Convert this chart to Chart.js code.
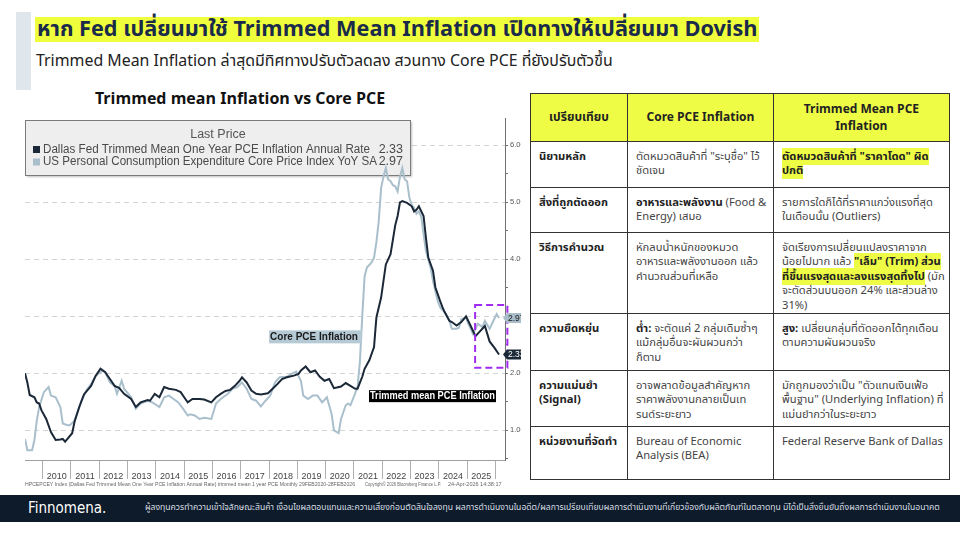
<!DOCTYPE html>
<html>
<head>
<meta charset="utf-8">
<script src="https://cdn.jsdelivr.net/npm/chart.js@4.4.1/dist/chart.umd.min.js"></script>
<style>
  html, body { margin: 0; padding: 0; background: #fff; }
  body { width: 960px; height: 540px; position: relative; overflow: hidden;
         font-family: "Noto Sans Thai", "Noto Sans", sans-serif; color: #222; }
  .side-bar { position: absolute; left: 16px; top: 12px; width: 15px; height: 78px; background: #dfe6ec; }
  .title { position: absolute; left: 35px; top: 17px; height: 25px; line-height: 25px;
           background: #f0ff3c; color: #1a2a4a; font-weight: 700; font-size: 21.7px;
           padding: 0 2px; white-space: nowrap; }
  .subtitle { position: absolute; left: 36px; top: 50px; font-size: 15.9px; line-height: 22px;
              color: #222; white-space: nowrap; }
  .chart-title { position: absolute; left: 60px; width: 360px; top: 88px; text-align: center;
                 font-weight: 700; font-size: 16px; line-height: 22px; color: #111; white-space: nowrap; }
  .chart-box { position: absolute; left: 20px; top: 112px; width: 501px; height: 378px; }
  table.cmp { position: absolute; left: 530px; top: 93px; border-collapse: collapse;
              table-layout: fixed; font-size: 11.2px; line-height: 14.4px; }
  table.cmp td, table.cmp th { border: 1px solid #333; vertical-align: top;
              padding: 8px 4px 0 8px; white-space: nowrap; overflow: hidden; color: #444; }
  table.cmp th { background: #eefc45; color: #222; font-weight: 700; font-size: 12px;
                 line-height: 17px; vertical-align: middle; text-align: center; padding: 0 4px; }
  table.cmp td.k { font-weight: 700; color: #222; }
  table.cmp mark { background: #eefc45; color: #222; font-weight: 700; }
  table.cmp b { color: #222; }
  .footer { position: absolute; left: 0; top: 495px; width: 960px; height: 27px; background: #0d1b2a; }
  .logo { position: absolute; left: 28px; top: 3px; color: #fff; font-size: 15px; line-height: 21px;
          font-family: "DejaVu Sans Condensed", "DejaVu Sans", sans-serif; }
  .disclaimer { position: absolute; left: 145px; top: 8px; color: #d8dde3; font-size: 8px; line-height: 11px;
                white-space: nowrap; transform-origin: 0 0; }
</style>
</head>
<body>
<div class="side-bar"></div>
<div class="title">หาก Fed เปลี่ยนมาใช้ Trimmed Mean Inflation เปิดทางให้เปลี่ยนมา Dovish</div>
<div class="subtitle">Trimmed Mean Inflation ล่าสุดมีทิศทางปรับตัวลดลง สวนทาง Core PCE ที่ยังปรับตัวขึ้น</div>
<div class="chart-title">Trimmed mean Inflation vs Core PCE</div>
<div class="chart-box"><canvas id="chart" width="501" height="378"></canvas></div>

<table class="cmp">
  <colgroup><col style="width:97px"><col style="width:146px"><col style="width:173px"></colgroup>
  <tr style="height:48px"><th>เปรียบเทียบ</th><th>Core PCE Inflation</th><th>Trimmed Mean PCE<br>Inflation</th></tr>
  <tr style="height:46px"><td class="k">นิยามหลัก</td>
    <td>ตัดหมวดสินค้าที่ "ระบุชื่อ" ไว้<br>ชัดเจน</td>
    <td><mark>ตัดหมวดสินค้าที่ "ราคาโดด" ผิด</mark><br><mark>ปกติ</mark></td></tr>
  <tr style="height:45px"><td class="k">สิ่งที่ถูกตัดออก</td>
    <td><b>อาหารและพลังงาน</b> (Food &amp;<br>Energy) เสมอ</td>
    <td>รายการใดก็ได้ที่ราคาแกว่งแรงที่สุด<br>ในเดือนนั้น (Outliers)</td></tr>
  <tr style="height:79px"><td class="k">วิธีการคำนวณ</td>
    <td>หักลบน้ำหนักของหมวด<br>อาหารและพลังงานออก แล้ว<br>คำนวณส่วนที่เหลือ</td>
    <td>จัดเรียงการเปลี่ยนแปลงราคาจาก<br>น้อยไปมาก แล้ว <mark>"เล็ม" (Trim) ส่วน</mark><br><mark>ที่ขึ้นแรงสุดและลงแรงสุดทิ้งไป</mark> (มัก<br>จะตัดส่วนบนออก 24% และส่วนล่าง<br>31%)</td></tr>
  <tr style="height:57px"><td class="k">ความยืดหยุ่น</td>
    <td><b>ต่ำ:</b> จะตัดแค่ 2 กลุ่มเดิมซ้ำๆ<br>แม้กลุ่มอื่นจะผันผวนกว่า<br>ก็ตาม</td>
    <td><b>สูง:</b> เปลี่ยนกลุ่มที่ตัดออกได้ทุกเดือน<br>ตามความผันผวนจริง</td></tr>
  <tr style="height:56px"><td class="k">ความแม่นยำ<br>(Signal)</td>
    <td>อาจพลาดข้อมูลสำคัญหาก<br>ราคาพลังงานกลายเป็นเท<br>รนด์ระยะยาว</td>
    <td>มักถูกมองว่าเป็น "ตัวแทนเงินเฟ้อ<br>พื้นฐาน" (Underlying Inflation) ที่<br>แม่นยำกว่าในระยะยาว</td></tr>
  <tr style="height:53px"><td class="k">หน่วยงานที่จัดทำ</td>
    <td>Bureau of Economic<br>Analysis (BEA)</td>
    <td>Federal Reserve Bank of Dallas</td></tr>
</table>

<div class="footer">
  <div class="logo">Finnomena.</div>
  <div class="disclaimer" id="disclaimer">ผู้ลงทุนควรทำความเข้าใจลักษณะสินค้า เงื่อนไขผลตอบแทนและความเสี่ยงก่อนตัดสินใจลงทุน ผลการดำเนินงานในอดีต/ผลการเปรียบเทียบผลการดำเนินงานที่เกี่ยวข้องกับผลิตภัณฑ์ในตลาดทุน มิได้เป็นสิ่งยืนยันถึงผลการดำเนินงานในอนาคต</div>
</div>

<script>
// Dallas Fed trimmed mean PCE, 1-year (dark line)
const trimmedDates = ['2009-05','2009-06','2009-07','2009-09','2009-10','2009-11','2009-12','2010-02','2010-04','2010-06',
  '2010-08','2010-09','2010-10','2010-11','2011-01','2011-02','2011-04','2011-06','2011-09','2011-11',
  '2012-01','2012-03','2012-05','2012-07','2012-09','2012-11','2013-02','2013-04','2013-06','2013-09',
  '2013-10','2013-12','2014-02','2014-04','2014-06','2014-09','2014-11','2015-01','2015-02','2015-04',
  '2015-07','2015-09','2015-12','2016-02','2016-04','2016-06','2016-08','2016-10','2016-12','2017-01',
  '2017-03','2017-05','2017-07','2017-09','2017-12','2018-02','2018-04','2018-06','2018-08','2018-11',
  '2019-01','2019-02','2019-04','2019-06','2019-08','2019-10','2019-12','2020-02','2020-04','2020-07',
  '2020-09','2020-11','2021-01','2021-02','2021-04','2021-05','2021-07','2021-09','2021-10','2021-12',
  '2022-02','2022-04','2022-06','2022-07','2022-08','2022-09','2022-11','2023-01','2023-02','2023-03',
  '2023-04','2023-06','2023-07','2023-08','2023-10','2023-11','2024-01','2024-02','2024-03','2024-05',
  '2024-06','2024-08','2024-10','2024-12','2025-02','2025-04','2025-06','2025-08','2025-10','2025-12',
  '2026-02'];
const trimmedValues = [2.00,1.84,1.62,1.58,1.49,1.47,1.35,1.20,0.97,0.83,
  0.84,0.85,0.80,0.85,0.95,1.15,1.41,1.63,1.78,1.96,
  2.08,2.02,1.90,1.78,1.74,1.64,1.55,1.41,1.49,1.53,
  1.52,1.64,1.58,1.76,1.73,1.71,1.67,1.55,1.49,1.55,
  1.55,1.54,1.49,1.58,1.64,1.69,1.71,1.78,1.87,1.93,
  1.84,1.70,1.64,1.63,1.65,1.73,1.81,1.90,1.93,1.96,
  1.99,2.05,2.12,2.02,2.05,1.94,1.87,1.90,1.74,1.77,
  1.83,1.78,1.73,1.73,1.94,2.08,2.23,2.46,2.98,3.33,
  3.91,4.09,4.60,4.76,5.00,5.02,4.99,4.93,4.84,4.87,
  4.93,4.76,4.38,4.03,3.80,3.51,3.27,3.16,3.07,2.92,
  2.90,2.84,2.90,3.00,2.83,2.65,2.74,2.83,2.56,2.45,
  2.33];

// US core PCE price index YoY (light line)
const coreDates = ['2009-05','2009-06','2009-08','2009-09','2009-10','2009-11','2010-01','2010-03','2010-04','2010-06',
  '2010-08','2010-09','2010-11','2010-12','2011-02','2011-03','2011-05','2011-07','2011-09','2011-11',
  '2012-02','2012-03','2012-05','2012-07','2012-08','2012-10','2012-11','2013-02','2013-04','2013-06',
  '2013-09','2013-11','2014-02','2014-04','2014-06','2014-08','2014-10','2014-12','2015-02','2015-03',
  '2015-05','2015-07','2015-09','2015-12','2016-02','2016-04','2016-07','2016-09','2016-11','2017-01',
  '2017-03','2017-05','2017-07','2017-09','2017-11','2018-01','2018-03','2018-05','2018-08','2018-10',
  '2018-12','2019-02','2019-03','2019-05','2019-07','2019-09','2019-11','2020-01','2020-03','2020-04',
  '2020-06','2020-07','2020-09','2020-10','2020-11','2021-01','2021-02','2021-03','2021-04','2021-05',
  '2021-06','2021-07','2021-08','2021-09','2021-10','2021-11','2021-12','2022-01','2022-02','2022-03',
  '2022-04','2022-05','2022-06','2022-07','2022-08','2022-09','2022-10','2022-11','2022-12','2023-01',
  '2023-02','2023-03','2023-04','2023-05','2023-06','2023-07','2023-09','2023-10','2023-12','2024-01',
  '2024-03','2024-05','2024-06','2024-08','2024-09','2024-10','2024-12','2025-01','2025-03','2025-05',
  '2025-07','2025-08','2025-10','2025-11','2026-01','2026-02'];
const coreValues = [0.85,0.65,0.65,0.83,1.17,1.41,1.67,1.76,1.61,1.58,
  1.41,1.12,1.09,1.09,1.17,1.29,1.52,1.70,1.81,1.96,
  2.05,2.02,1.84,1.78,1.64,1.87,1.73,1.58,1.38,1.47,
  1.52,1.49,1.41,1.58,1.61,1.55,1.49,1.38,1.26,1.28,
  1.26,1.20,1.22,1.20,1.47,1.55,1.64,1.73,1.76,1.84,
  1.73,1.55,1.52,1.42,1.52,1.61,1.84,1.93,1.94,1.99,
  2.03,1.87,1.61,1.55,1.61,1.61,1.49,1.58,1.29,1.00,
  0.95,1.20,1.44,1.47,1.44,1.65,1.76,2.20,3.00,3.70,
  3.86,3.90,3.95,4.03,4.30,4.67,5.25,5.45,5.60,5.40,
  5.37,5.30,5.28,5.19,5.45,5.60,5.40,5.37,5.08,4.95,
  4.90,4.80,4.84,4.75,4.44,4.15,3.85,3.62,3.27,3.16,
  3.07,2.92,2.78,2.78,2.80,2.95,2.98,2.87,2.69,2.87,
  2.81,2.92,2.78,2.87,3.04,2.97];

const yearTicks = [2010,2011,2012,2013,2014,2015,2016,2017,2018,2019,2020,2021,2022,2023,2024,2025,2026];
const valueTicks = [0.5,1,1.5,2,2.5,3,3.5,4,4.5,5,5.5,6];
const seriesNames = ['Dallas Fed Trimmed Mean One Year PCE Inflation Annual Rate',
                     'US Personal Consumption Expenditure Core Price Index YoY SA'];
const lastPrices = [2.33, 2.97];

const DARK = '#1b2838';
const LIGHT = '#a9bfcc';
const BBG_FONT = '"Liberation Sans", Arial, sans-serif';

function toYear(s) {
    const parts = s.split('-').map(Number);
    return parts[0] + (parts[1] - 0.5) / 12;
}
function toPoints(dates, values) {
    return dates.map((d, i) => ({ x: toYear(d), y: values[i] }));
}

// Bloomberg style decorations: legend box, labels, highlight box, last value tags
const bbgDecor = {
    id: 'bbgDecor',
    beforeDatasetsDraw(chart) {
        const ctx = chart.ctx;
        ctx.save();
        ctx.shadowColor = 'rgba(0,0,0,0.25)';
        ctx.shadowOffsetX = 1;
        ctx.shadowOffsetY = 1;
        ctx.shadowBlur = 2;
        ctx.fillStyle = '#eeeeee';
        ctx.fillRect(5.5, 8.5, 385, 55);
        ctx.shadowColor = 'transparent';
        ctx.strokeStyle = '#7a7a7a';
        ctx.lineWidth = 1;
        ctx.strokeRect(5.5, 8.5, 385, 55);
        ctx.fillStyle = '#555';
        ctx.font = '12.5px ' + BBG_FONT;
        ctx.textBaseline = 'middle';
        ctx.textAlign = 'center';
        ctx.fillText('Last Price', 198, 23);
        const rowY = [37.5, 50];
        const colors = [DARK, LIGHT];
        seriesNames.forEach((name, i) => {
            ctx.fillStyle = colors[i];
            ctx.fillRect(13, rowY[i] - 3.5, 7, 7);
            ctx.fillStyle = '#4a4a4a';
            ctx.textAlign = 'left';
            ctx.fillText(name, 23, rowY[i], i === 0 ? 327 : 334);
            ctx.textAlign = 'right';
            ctx.fillText(lastPrices[i].toFixed(2), 383, rowY[i]);
        });
        ctx.restore();
    },
    afterDatasetsDraw(chart) {
        const ctx = chart.ctx;
        const xs = chart.scales.x, ys = chart.scales.y;
        ctx.save();
        // in-chart labels
        ctx.font = 'bold 10px ' + BBG_FONT;
        ctx.textBaseline = 'middle';
        ctx.textAlign = 'left';
        let lx = xs.getPixelForValue(2018.0), ly = ys.getPixelForValue(2.64);
        ctx.fillStyle = '#b6cad5';
        ctx.fillRect(lx, ly - 6.5, 93, 13);
        ctx.fillStyle = '#1a1a1a';
        ctx.fillText('Core PCE Inflation', lx + 1, ly + 0.5, 91);
        lx = xs.getPixelForValue(2021.53); ly = ys.getPixelForValue(1.6);
        ctx.fillStyle = '#000';
        ctx.fillRect(lx, ly - 6, 127, 12);
        ctx.fillStyle = '#fff';
        ctx.fillText('Trimmed mean PCE Inflation', lx + 1, ly + 0.5, 125);
        // purple dashed highlight
        const bx1 = xs.getPixelForValue(2025.28), bx2 = xs.getPixelForValue(2026.42);
        const by1 = ys.getPixelForValue(3.2), by2 = ys.getPixelForValue(2.1);
        ctx.strokeStyle = '#a12cf0';
        ctx.lineWidth = 2;
        ctx.setLineDash([7, 4]);
        ctx.strokeRect(bx1, by1, bx2 - bx1, by2 - by1);
        ctx.setLineDash([]);
        // last value tags on the right axis
        const tagBg = [DARK, '#a8bdc9'];
        const tagFg = ['#fff', '#1a1a1a'];
        const rx = chart.chartArea.right;
        ctx.font = '8.5px ' + BBG_FONT;
        lastPrices.forEach((v, i) => {
            const py = ys.getPixelForValue(v);
            ctx.fillStyle = tagBg[i];
            ctx.beginPath();
            ctx.moveTo(rx - 2, py);
            ctx.lineTo(rx + 2, py - 5);
            ctx.lineTo(rx + 24, py - 5);
            ctx.lineTo(rx + 24, py + 5);
            ctx.lineTo(rx + 2, py + 5);
            ctx.closePath();
            ctx.fill();
            ctx.fillStyle = tagFg[i];
            ctx.fillText(v.toFixed(2), rx + 3, py + 0.5);
        });
        ctx.restore();
    },
    afterDraw(chart) {
        const ctx = chart.ctx;
        ctx.save();
        ctx.fillStyle = '#666';
        ctx.font = '5.5px ' + BBG_FONT;
        ctx.textBaseline = 'middle';
        ctx.textAlign = 'left';
        ctx.fillText('HPCEPCEY Index (Dallas Fed Trimmed Mean One Year PCE Inflation Annual Rate) trimmed mean 1 year PCE Monthly 29FEB2020-28FEB2026', 5, 372, 330);
        ctx.fillText('Copyright\u00a9 2026 Bloomberg Finance L.P.', 345, 372, 76);
        ctx.fillText('24-Apr-2026 14:38:17', 428, 372, 75);
        ctx.restore();
    }
};

document.addEventListener('DOMContentLoaded', function () {
    // squeeze the disclaimer into the footer width
    const disc = document.getElementById('disclaimer');
    const w = disc.scrollWidth;
    if (w > 0) disc.style.transform = 'scaleX(' + (795 / w) + ')';

    const ctx = document.getElementById('chart').getContext('2d');
    new Chart(ctx, {
        type: 'line',
        data: {
            datasets: [{
                label: seriesNames[0],
                data: toPoints(trimmedDates, trimmedValues),
                borderColor: DARK,
                borderWidth: 2,
                pointRadius: 0,
                tension: 0,
                order: 0
            }, {
                label: seriesNames[1],
                data: toPoints(coreDates, coreValues),
                borderColor: LIGHT,
                borderWidth: 2,
                pointRadius: 0,
                tension: 0,
                order: 1
            }]
        },
        options: {
            responsive: false,
            animation: false,
            events: [],
            layout: { padding: { left: 5, top: 5, right: 0, bottom: 0 } },
            plugins: { legend: { display: false }, tooltip: { enabled: false } },
            scales: {
                x: {
                    type: 'linear',
                    min: 2009.375,
                    max: 2026.336,
                    afterBuildTicks: axis => { axis.ticks = yearTicks.map(v => ({ value: v })); },
                    afterFit: axis => { axis.height = 30; },
                    border: { display: true, color: '#a0a0a0' },
                    grid: { drawOnChartArea: false, drawTicks: true, tickLength: 19, tickColor: '#b0b0b0' },
                    ticks: {
                        autoSkip: false, maxRotation: 0, labelOffset: 14, padding: -8,
                        color: '#444', font: { family: BBG_FONT, size: 9 },
                        callback: v => (v < 2026 ? String(v) : '')
                    }
                },
                y: {
                    position: 'right',
                    min: 0.48,
                    max: 6.47,
                    afterBuildTicks: axis => { axis.ticks = valueTicks.map(v => ({ value: v })); },
                    afterFit: axis => { axis.width = 16; },
                    border: { display: true, color: '#707070', dash: [5, 4] },
                    grid: {
                        color: c => (c.tick && Number.isInteger(c.tick.value) ? '#d4d4d4' : 'rgba(0,0,0,0)'),
                        tickColor: '#707070', tickLength: 3, drawTicks: true
                    },
                    ticks: {
                        padding: 2, color: '#555',
                        font: { family: BBG_FONT, size: 7.5 },
                        callback: v => (Number.isInteger(v) ? v.toFixed(2) : '')
                    }
                }
            }
        },
        plugins: [bbgDecor]
    });
});
</script>
</body>
</html>
